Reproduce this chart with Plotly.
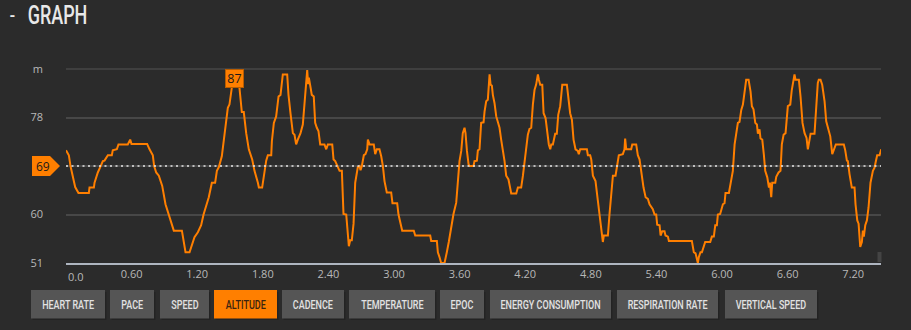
import plotly.graph_objects as go

# Altitude track (time in hours, altitude in metres)
time_h = [
    0.000, 0.026, 0.041, 0.062, 0.084, 0.114, 0.209, 0.215, 0.255, 0.261, 0.276, 0.291, 0.313,
    0.337, 0.352, 0.383, 0.419, 0.428, 0.465, 0.480, 0.565, 0.587, 0.599, 0.742, 0.764, 0.794,
    0.806, 0.825, 0.849, 0.880, 0.910, 0.941, 0.962, 0.986, 1.060, 1.075, 1.093, 1.130, 1.160,
    1.175, 1.206, 1.236, 1.258, 1.288, 1.306, 1.334, 1.364, 1.380, 1.398, 1.425, 1.441, 1.459,
    1.480, 1.495, 1.517, 1.530, 1.541, 1.560, 1.587, 1.608, 1.626, 1.648, 1.672, 1.703, 1.724,
    1.755, 1.764, 1.794, 1.806, 1.831, 1.846, 1.877, 1.883, 1.901, 1.922, 1.944, 1.962, 1.983,
    2.023, 2.035, 2.053, 2.075, 2.090, 2.105, 2.120, 2.145, 2.166, 2.181, 2.197, 2.206, 2.215,
    2.221, 2.234, 2.248, 2.266, 2.279, 2.294, 2.309, 2.325, 2.364, 2.380, 2.395, 2.435, 2.447,
    2.462, 2.481, 2.502, 2.523, 2.538, 2.563, 2.578, 2.587, 2.599, 2.614, 2.630, 2.645, 2.669,
    2.685, 2.694, 2.706, 2.724, 2.739, 2.755, 2.761, 2.776, 2.815, 2.828, 2.843, 2.867, 2.883,
    2.898, 2.913, 2.934, 2.974, 2.986, 3.029, 3.041, 3.060, 3.075, 3.181, 3.194, 3.331, 3.340,
    3.392, 3.401, 3.416, 3.431, 3.462, 3.471, 3.483, 3.501, 3.523, 3.544, 3.569, 3.584, 3.599,
    3.615, 3.629, 3.645, 3.654, 3.667, 3.682, 3.691, 3.727, 3.736, 3.758, 3.767, 3.782, 3.797,
    3.819, 3.828, 3.843, 3.858, 3.867, 3.874, 3.883, 3.895, 3.904, 3.919, 3.935, 3.950, 3.965,
    3.980, 3.996, 4.011, 4.026, 4.047, 4.072, 4.118, 4.133, 4.163, 4.179, 4.194, 4.209, 4.224,
    4.239, 4.255, 4.270, 4.285, 4.300, 4.316, 4.325, 4.337, 4.356, 4.368, 4.386, 4.398, 4.416,
    4.429, 4.438, 4.453, 4.474, 4.489, 4.502, 4.520, 4.539, 4.581, 4.599, 4.611, 4.627, 4.642,
    4.660, 4.681, 4.690, 4.703, 4.764, 4.773, 4.794, 4.804, 4.819, 4.843, 4.864, 4.880, 4.895,
    4.910, 4.919, 4.956, 4.971, 4.986, 5.002, 5.026, 5.038, 5.056, 5.093, 5.108, 5.114, 5.124,
    5.169, 5.179, 5.215, 5.230, 5.246, 5.255, 5.270, 5.282, 5.301, 5.322, 5.337, 5.353, 5.367,
    5.383, 5.398, 5.407, 5.429, 5.438, 5.453, 5.474, 5.483, 5.505, 5.514, 5.724, 5.733, 5.742,
    5.758, 5.770, 5.779, 5.788, 5.803, 5.816, 5.831, 5.846, 5.892, 5.907, 5.925, 5.938, 5.953,
    5.962, 5.983, 5.993, 6.008, 6.023, 6.032, 6.063, 6.078, 6.099, 6.115, 6.130, 6.145, 6.160,
    6.176, 6.191, 6.206, 6.221, 6.243, 6.261, 6.273, 6.288, 6.304, 6.319, 6.328, 6.343, 6.352,
    6.368, 6.383, 6.395, 6.414, 6.429, 6.438, 6.450, 6.459, 6.487, 6.496, 6.517, 6.535, 6.547,
    6.563, 6.581, 6.602, 6.624, 6.638, 6.651, 6.663, 6.672, 6.703, 6.718, 6.736, 6.755, 6.773,
    6.785, 6.794, 6.810, 6.846, 6.862, 6.876, 6.885, 6.901, 6.916, 6.938, 6.953, 6.974, 6.990,
    7.008, 7.023, 7.041, 7.114, 7.127, 7.142, 7.151, 7.166, 7.187, 7.212, 7.221, 7.237, 7.249,
    7.264, 7.279, 7.288, 7.297, 7.310, 7.325, 7.340, 7.358, 7.380, 7.395, 7.404, 7.419, 7.441,
    7.456,
]
altitude_m = [
    71.9, 71.0, 69.0, 66.9, 65.1, 64.0, 64.0, 65.0, 65.0, 65.9, 66.9, 67.8, 68.8,
    69.9, 70.0, 71.0, 71.0, 71.9, 72.1, 73.0, 73.0, 73.9, 73.1, 73.1, 72.1, 71.0,
    69.0, 67.8, 67.2, 65.3, 61.9, 60.0, 58.3, 57.0, 57.0, 55.2, 53.0, 53.0, 54.7,
    55.8, 56.7, 58.0, 60.0, 61.9, 63.2, 65.9, 65.9, 68.1, 68.8, 70.8, 73.6, 77.0,
    79.8, 80.4, 83.1, 85.5, 87.0, 85.5, 83.4, 79.0, 79.0, 75.1, 72.1, 70.2, 68.1,
    65.9, 65.0, 65.0, 66.5, 70.0, 71.0, 71.0, 73.6, 77.0, 78.2, 81.9, 82.2, 86.0,
    86.0, 82.2, 78.8, 75.1, 74.8, 73.0, 73.9, 75.1, 76.7, 80.4, 84.1, 86.8, 84.2,
    85.4, 83.9, 82.2, 81.9, 77.0, 76.1, 75.5, 73.0, 73.0, 72.1, 73.0, 73.0, 70.2,
    69.9, 69.0, 68.1, 68.1, 60.1, 60.0, 55.8, 54.1, 55.2, 55.2, 58.3, 65.9, 68.8,
    69.0, 68.2, 69.0, 71.0, 71.2, 72.1, 73.9, 73.0, 73.0, 71.2, 72.1, 72.1, 70.8,
    69.0, 66.2, 64.1, 64.1, 62.1, 62.1, 60.0, 58.3, 57.0, 57.0, 56.1, 56.1, 55.1,
    55.1, 53.0, 52.1, 51.0, 51.0, 52.1, 53.0, 54.9, 57.6, 60.1, 62.2, 66.2, 69.9,
    71.8, 75.1, 76.1, 75.1, 71.8, 69.3, 69.0, 69.0, 69.9, 70.0, 71.9, 72.1, 77.0,
    77.1, 79.1, 81.0, 81.3, 85.9, 86.0, 84.1, 83.9, 82.2, 80.7, 78.2, 77.3, 76.1,
    73.9, 72.1, 69.9, 67.2, 66.5, 63.9, 63.9, 65.0, 65.0, 67.2, 69.9, 73.3, 74.8,
    75.9, 76.1, 80.4, 83.1, 84.1, 86.0, 85.0, 84.1, 84.1, 78.8, 77.9, 76.1, 73.0,
    72.1, 73.0, 73.0, 75.0, 75.0, 78.5, 80.1, 84.1, 84.1, 80.4, 78.8, 77.6, 73.9,
    72.1, 71.8, 71.2, 72.1, 72.1, 71.0, 71.0, 70.2, 67.2, 66.2, 62.6, 60.0, 58.0,
    54.9, 56.1, 56.1, 60.1, 63.8, 67.2, 67.2, 68.8, 71.0, 71.2, 72.1, 74.1, 72.1,
    72.1, 73.0, 73.0, 71.0, 70.2, 68.8, 65.9, 65.0, 63.2, 62.9, 61.9, 61.3, 61.0,
    60.0, 60.0, 58.1, 58.0, 56.1, 56.9, 56.9, 56.1, 55.9, 55.1, 55.1, 54.0, 53.0,
    52.8, 52.0, 51.0, 52.1, 53.0, 53.0, 54.1, 54.9, 54.9, 55.9, 55.9, 58.0, 58.0,
    60.0, 60.1, 61.0, 61.9, 62.1, 64.0, 64.0, 65.9, 68.1, 73.0, 75.0, 77.0, 77.2,
    79.4, 80.4, 82.9, 85.0, 85.0, 82.8, 80.1, 79.5, 77.0, 76.7, 75.0, 75.8, 74.1,
    73.9, 71.0, 68.1, 66.9, 65.0, 65.9, 63.2, 65.9, 65.9, 67.0, 67.8, 68.1, 73.0,
    74.8, 75.1, 80.1, 80.4, 83.1, 85.0, 86.0, 85.0, 85.0, 81.9, 77.0, 75.1, 74.2,
    72.1, 73.1, 75.0, 75.0, 80.1, 84.4, 85.0, 85.0, 84.1, 81.0, 77.3, 75.5, 74.5,
    71.2, 72.1, 73.0, 73.0, 71.9, 70.0, 69.9, 67.5, 65.0, 65.0, 61.9, 58.9, 58.3,
    54.0, 54.9, 57.0, 55.9, 58.0, 58.9, 61.3, 65.9, 68.1, 68.7, 69.6, 71.0, 71.0,
    72.1,
]

avg_altitude = 69
y_ticks = [51, 60, 69, 78, 87]
y_tick_text = ["51", "60", " ", "78", "m"]
x_ticks = [0.6, 1.2, 1.8, 2.4, 3.0, 3.6, 4.2, 4.8, 5.4, 6.0, 6.6, 7.2]
x_tick_text = ["0.60", "1.20", "1.80", "2.40", "3.00", "3.60", "4.20", "4.80",
               "5.40", "6.00", "6.60", "7.20"]
first_tick_text = "0.0"
metric_buttons = ["HEART RATE", "PACE", "SPEED", "ALTITUDE", "CADENCE", "TEMPERATURE",
                  "EPOC", "ENERGY CONSUMPTION", "RESPIRATION RATE", "VERTICAL SPEED"]
active_metric = "ALTITUDE"

# ---- layout constants (pixels) ----
W, H = 911, 330
ML, MR, MT, MB = 66, 30, 69, 67
PW, PH = W - ML - MR, H - MT - MB
BG = "#2b2b2b"
ORANGE = "#ff7f00"
COND = "Roboto, sans-serif"          # squeezed horizontally after render
BODY = "Open Sans, sans-serif"
button_spans = [(31, 105), (110, 154), (160, 209), (214, 277), (282, 344), (349, 435),
                (440, 484), (490, 611), (617, 718), (725, 817)]


def px_x(px):
    return (px - ML) / PW


def px_y(py):
    return (H - MB - py) / PH


fig = go.Figure()
fig.add_trace(go.Scatter(
    x=time_h, y=altitude_m, mode="lines",
    line=dict(color=ORANGE, width=2), hoverinfo="skip", showlegend=False,
))

shapes = []
annotations = []

# top grid line (upper edge of the value range)
shapes.append(dict(type="line", xref="paper", yref="paper", x0=0, x1=1, y0=1, y1=1,
                   line=dict(color="#474747", width=1.5), layer="below"))
# average line
shapes.append(dict(type="line", xref="paper", yref="y", x0=0, x1=1,
                   y0=avg_altitude, y1=avg_altitude,
                   line=dict(color="#e6e6e6", width=1.6, dash="2px,3.5px"), layer="above"))
# average marker (pentagon pointing at the axis)
shapes.append(dict(type="path", xref="paper", yref="y", xsizemode="pixel", ysizemode="pixel",
                   xanchor=0, yanchor=avg_altitude,
                   path="M -34,-10 L -16,-10 L -6,0 L -16,10 L -34,10 Z",
                   fillcolor=ORANGE, line=dict(width=0), layer="above"))
annotations.append(dict(x=0, y=avg_altitude, xref="paper", yref="y", xshift=-23.5,
                        xanchor="center", yanchor="middle",
                        text=str(avg_altitude), showarrow=False,
                        font=dict(family=BODY, size=12, color="#1a1a1a")))

# peak label
peak_val = max(altitude_m)
peak_t = time_h[altitude_m.index(peak_val)]
annotations.append(dict(x=peak_t, y=peak_val, xref="x", yref="y",
                        xanchor="center", yanchor="top",
                        text=f"{peak_val:g}", showarrow=False,
                        bgcolor=ORANGE, bordercolor="#b85c00", borderwidth=1, borderpad=1,
                        width=15, height=15,
                        font=dict(family=BODY, size=12.5, color="#1a1a1a")))

# first x tick label, aligned to the left edge
annotations.append(dict(x=0, y=0, xref="x", yref="paper", xanchor="left", yanchor="top",
                        yshift=-4, text=first_tick_text, showarrow=False,
                        font=dict(family=BODY, size=11, color="#b8b8b8")))

# scroll nub at the right end of the axis
shapes.append(dict(type="rect", xref="paper", yref="paper",
                   x0=px_x(877.5), x1=px_x(881.5), y0=px_y(262), y1=px_y(252),
                   fillcolor="#444444", line=dict(width=0)))

# section title
annotations.append(dict(x=px_x(12.5), y=px_y(15), xref="paper", yref="paper",
                        xanchor="center", yanchor="middle", text="-", showarrow=False,
                        font=dict(family=COND, size=24, color="#e8e8e8")))
annotations.append(dict(x=px_x(57.5), y=px_y(15.5), xref="paper", yref="paper",
                        xanchor="center", yanchor="middle", text="GRAPH", showarrow=False,
                        font=dict(family=COND, size=25, weight=500, color="#e8e8e8")))

# metric selector buttons
for name, (bx0, bx1) in zip(metric_buttons, button_spans):
    active = name == active_metric
    shapes.append(dict(type="rect", xref="paper", yref="paper",
                       x0=px_x(bx0 + 1.5), x1=px_x(bx1 + 1.5), y0=px_y(320), y1=px_y(292),
                       fillcolor="#1e1e1e", line=dict(width=0), opacity=0.6))
    shapes.append(dict(type="rect", xref="paper", yref="paper",
                       x0=px_x(bx0), x1=px_x(bx1), y0=px_y(318.5), y1=px_y(290),
                       fillcolor=ORANGE if active else "#555555", line=dict(width=0)))
    annotations.append(dict(x=px_x((bx0 + bx1) / 2), y=px_y(304.5), xref="paper", yref="paper",
                            text=name, showarrow=False, xanchor="center", yanchor="middle",
                            font=dict(family=COND, size=12.5, weight=500,
                                      color="#3a2410" if active else "#e2e2e2")))

fig.update_layout(
    width=W, height=H,
    margin=dict(l=ML, r=MR, t=MT, b=MB, pad=0),
    paper_bgcolor=BG, plot_bgcolor=BG,
    showlegend=False,
    shapes=shapes, annotations=annotations,
    xaxis=dict(range=[0, 7.454], tickvals=x_ticks, ticktext=x_tick_text,
               showgrid=False, zeroline=False, showline=True, linecolor="#aeb5c0",
               linewidth=2, ticks="", fixedrange=True,
               tickfont=dict(family=BODY, size=11, color="#b8b8b8")),
    yaxis=dict(range=[51, 87], tickvals=y_ticks, ticktext=y_tick_text,
               showgrid=True, gridcolor="#474747", gridwidth=1.5, zeroline=False,
               showline=False, ticks="", ticklabelstandoff=22, fixedrange=True,
               tickfont=dict(family=BODY, size=11, color="#b8b8b8")),
)

# condensed look for the title and button captions
squeeze_js = """
var gd = document.getElementById('{plot_id}');
function squeeze() {
  gd.querySelectorAll('text.annotation-text').forEach(function (t) {
    if ((t.style.fontFamily || '').indexOf('Roboto') !== -1) {
      t.style.transformBox = 'fill-box';
      t.style.transformOrigin = 'center';
      t.style.transform = 'scaleX(0.72)';
    }
  });
}
squeeze();
gd.on('plotly_afterplot', squeeze);
"""

fig.write_html("out.html", config={"displayModeBar": False}, post_script=squeeze_js)
